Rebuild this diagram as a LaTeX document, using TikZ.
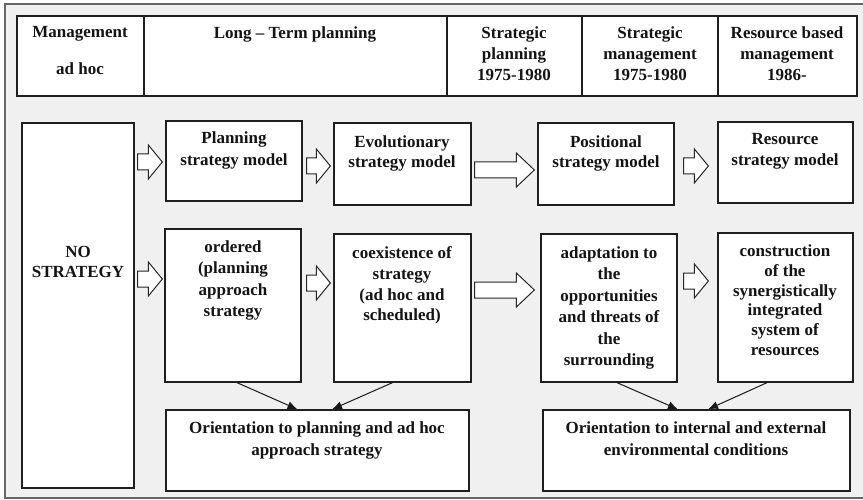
\documentclass[tikz,border=0pt]{standalone}
\usepackage{fontspec}
\setmainfont{Liberation Serif}
\usetikzlibrary{fit,calc,arrows.meta}

% hollow block arrow between two boxes:
% #1 from node, #2 to node, #3 y of the axis, #4 gap at tail, #5 gap at tip, #6 head length
\newcommand\blockarrow[6]{%
  \draw[blockarr] let \p1=(#1.east), \p2=(#2.west), \p3=(0,#3) in
    (\x1+#4pt, \y3+8pt) -- (\x2-#5pt-#6pt, \y3+8pt) -- (\x2-#5pt-#6pt, \y3+17pt)
    -- (\x2-#5pt, \y3) -- (\x2-#5pt-#6pt, \y3-17pt) -- (\x2-#5pt-#6pt, \y3-8pt)
    -- (\x1+#4pt, \y3-8pt) -- cycle;}

\begin{document}
\begin{tikzpicture}[x=1pt,y=-1pt,
  cell/.style={draw=black!88, fill=white, line width=1.3pt, inner sep=0pt},
  words/.style={font=\fontsize{17}{#1}\selectfont\bfseries, align=center,
    inner sep=0pt, anchor=north, text=black!92},
  words/.default=21,
  blockarr/.style={draw=black!85, fill=white, line width=1pt, line join=miter},
  link/.style={-{Latex[length=10pt,width=8pt]}, line width=1pt, draw=black!90},
]
\useasboundingbox (0,0) rectangle (863,500);
\fill[white] (0,0) rectangle (863,500);
% grey panel
\draw[draw=black!60, fill=black!6, line width=1.2pt] (5,4) rectangle (875,498);

% header row
\node[cell, fit={(17,16) (144,96)}] (h1) {};
\node[cell, fit={(144,16) (447,96)}] (h2) {};
\node[cell, fit={(447,16) (582,96)}] (h3) {};
\node[cell, fit={(582,16) (718,96)}] (h4) {};
\node[cell, fit={(718,16) (857,96)}] (h5) {};
\node[words] (h1t) at (80,26.5) {Management\\[16pt]ad hoc};
\node[words] (h2t) at (295,26.5) {Long -- Term planning};
\node[words] (h3t) at (514,26.5) {Strategic\\planning\\1975-1980};
\node[words] (h4t) at (650,26.5) {Strategic\\management\\1975-1980};
\node[words] (h5t) at (787,26.5) {Resource based\\management\\1986-};

% boxes
\node[cell, fit={(22,123) (134,488)}] (nos) {};
\node[cell, fit={(166,121) (302,201)}] (plan) {};
\node[cell, fit={(334,123) (471,205)}] (evol) {};
\node[cell, fit={(538,123) (674,205)}] (pos) {};
\node[cell, fit={(718,122) (853,203)}] (res) {};
\node[cell, fit={(165,229) (301,382)}] (ord) {};
\node[cell, fit={(334,234) (471,382)}] (coex) {};
\node[cell, fit={(541,234) (677,382)}] (adapt) {};
\node[cell, fit={(718,233) (853,382)}] (cons) {};
\node[cell, fit={(166,410) (469,491)}] (ori1) {};
\node[cell, fit={(543,410) (850,491)}] (ori2) {};

\node[words=20] (nost) at (78,246.5) {NO\\STRATEGY};
\node[words=22] (plant) at (234,131.5) {Planning\\strategy model};
\node[words=20] (evolt) at (402,135.5) {Evolutionary\\strategy model};
\node[words=20] (post) at (606,135.5) {Positional\\strategy model};
\node[words=21] (rest) at (785,133.5) {Resource\\strategy model};
\node[words=21.5] (ordt) at (233,240.5) {ordered\\(planning\\approach\\strategy};
\node[words=20.7] (coext) at (402,246.5) {coexistence of\\strategy\\(ad hoc and\\scheduled)};
\node[words=21.4] (adaptt) at (609,246.5) {adaptation to\\the\\opportunities\\and threats of\\the\\surrounding};
\node[words=19.8] (const) at (785,244.5) {construction\\of the\\synergistically\\integrated\\system of\\resources};
\node[words=22] (ori1t) at (317,421.5) {Orientation to planning and ad hoc\\approach strategy};
\node[words=22] (ori2t) at (696,421.5) {Orientation to internal and external\\environmental conditions};

% block arrows
\blockarrow{nos}{plan}{162}{3}{3}{14}
\blockarrow{plan}{evol}{166}{4}{3}{14}
\blockarrow{nos}{ord}{279}{3}{2}{14}
\blockarrow{ord}{coex}{283}{5}{3}{14}
\blockarrow{evol}{pos}{170}{3}{3}{18}
\blockarrow{pos}{res}{166}{9}{9}{14}
\blockarrow{coex}{adapt}{290}{3}{6}{18}
\blockarrow{adapt}{cons}{281}{6}{9}{14}

% converging arrows
\draw[link] ([xshift=4pt]ord.south) -- ([xshift=-20pt]ori1.north);
\draw[link] ([xshift=-10pt]coex.south) -- ([xshift=14.5pt]ori1.north);
\draw[link] ([xshift=8pt]adapt.south) -- ([xshift=-18.5pt]ori2.north);
\draw[link] ([xshift=-18.5pt]cons.south) -- ([xshift=11.5pt]ori2.north);
\end{tikzpicture}
\end{document}
